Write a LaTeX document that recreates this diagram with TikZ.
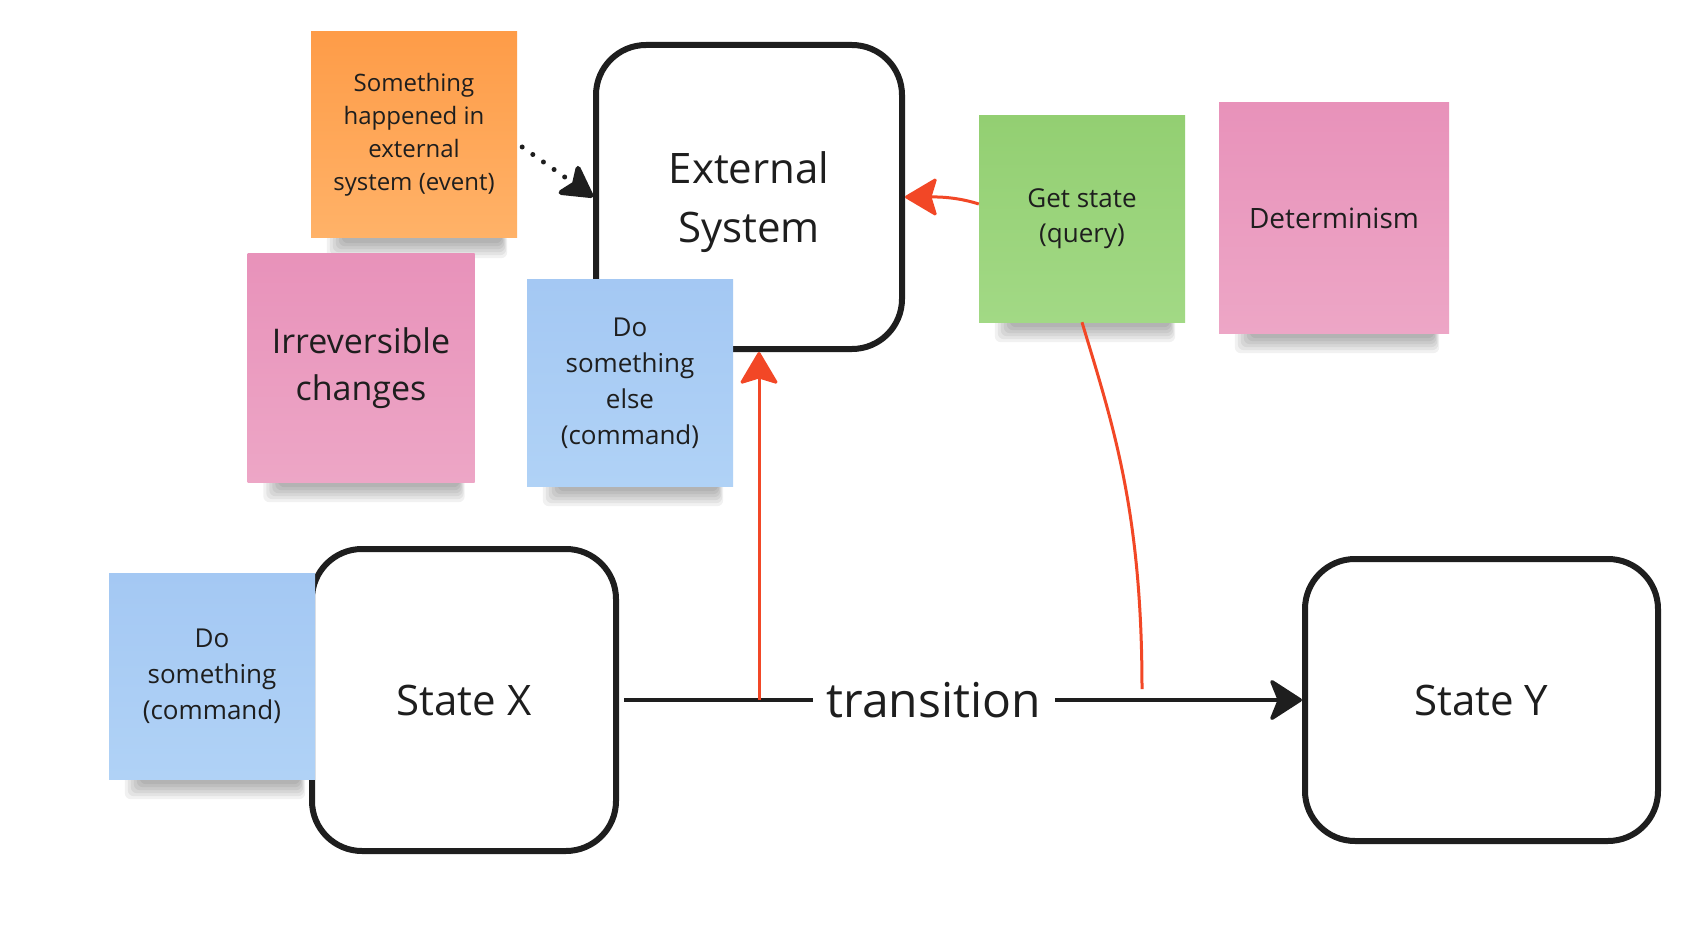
\documentclass[tikz,border=0pt]{standalone}
\usepackage{fontspec}
\setmainfont{Open Sans}
\usetikzlibrary{arrows.meta,positioning,calc,backgrounds}
\definecolor{ink}{HTML}{1E1E1E}
\definecolor{miroRed}{HTML}{F24726}
\definecolor{orangeTop}{RGB}{254,156,72}
\definecolor{orangeBot}{RGB}{255,178,104}
\definecolor{pinkTop}{RGB}{232,146,186}
\definecolor{pinkBot}{RGB}{237,166,198}
\definecolor{blueTop}{RGB}{164,200,243}
\definecolor{blueBot}{RGB}{176,210,246}
\definecolor{greenTop}{RGB}{147,207,114}
\definecolor{greenBot}{RGB}{162,217,133}
\tikzset{
    %Define standard arrow tip
    >={Stealth[length=34pt,width=40pt,inset=6pt,round]},
    %Define style for the state boxes
    statebox/.style={
           rectangle,
           rounded corners=50pt,
           draw=ink,
           line width=6pt,
           fill=white,
           text=ink,
           text depth=0pt,
           align=center,
           font=\fontsize{42}{59}\selectfont},
    %Define style for sticky notes
    sticky/.style={
           rectangle,
           minimum width=206pt,
           minimum height=206pt,
           align=center,
           text=ink,
           font=\fontsize{26}{36}\selectfont},
    orangenote/.style={top color=orangeTop, bottom color=orangeBot},
    pinknote/.style={top color=pinkTop, bottom color=pinkBot},
    bluenote/.style={top color=blueTop, bottom color=blueBot},
    greennote/.style={top color=greenTop, bottom color=greenBot},
    % Define arrow styles
    flow/.style={
           -{Stealth[length=35pt,width=45pt,inset=9pt,round]},
           draw=ink,
           line width=3.5pt,
           shorten <=5pt},
    redline/.style={
           draw=miroRed,
           line width=3pt},
    dotflow/.style={
           -{Stealth[length=36pt,width=40pt,inset=8pt,round]},
           draw=ink,
           line width=5pt,
           line cap=round,
           dash pattern=on 0pt off 13pt}
}
\begin{document}
\begin{tikzpicture}[x=1pt,y=-1pt]
  \begin{scope}[on background layer]
    \fill[white] (0,0) rectangle (1682,928);
  \end{scope}
  \useasboundingbox (0,0) rectangle (1682,928);
  % state boxes
  \node[statebox,minimum width=306pt,minimum height=304pt] (ext) at (749,197) {External\\System};
  \node[statebox,minimum width=304pt,minimum height=302pt] (statex) at (464,700) {State X};
  \node[statebox,minimum width=353pt,minimum height=282pt,right=683pt of statex] (statey) {State Y};
  % sticky notes
  \node[sticky,orangenote,font=\fontsize{24}{33}\selectfont] (event) at (414,135) {Something\\happened in\\external\\system (event)};
  \node[sticky,pinknote,minimum width=227pt,minimum height=228pt,font=\fontsize{34}{47}\selectfont] (irrev) at (361,368) {Irreversible\\changes};
  \node[sticky,bluenote] (cmdelse) at (630,383) {Do\\something\\else\\(command)};
  \node[sticky,greennote,font=\fontsize{26}{35}\selectfont] (query) at (1082,219) {Get state\\(query)};
  \node[sticky,pinknote,minimum size=230pt,font=\fontsize{28}{36}\selectfont,text depth=0pt] (determ) at (1334,218) {Determinism};
  \node[sticky,bluenote] (cmd) at (212,676) {Do\\something\\(command)};
  % note shadows
  \begin{scope}[on background layer]
    \foreach \n in {event,irrev,cmdelse,query,determ,cmd}
      \foreach \k in {1,...,6}
        \fill[black,opacity=0.055,rounded corners=6pt]
          ($(\n.south west)+(34-3*\k,-4)$) rectangle ($(\n.south east)+(-16+\k,2+3*\k)$);
  \end{scope}
  % transition
  \draw[flow] (statex.east) -- node[pos=0.461,fill=white,inner xsep=14pt,text=ink,font=\fontsize{48}{58}\selectfont] (trans) {transition} (statey.west);
  \coordinate (cmdtap) at (759,700);
  \coordinate (querytap) at (1142,689);
  \draw[redline,->] (cmdtap) -- (cmdtap |- ext.south);
  \draw[redline] (querytap) .. controls +(0,-180) and +(30,100) .. (query.south);
  \draw[redline,->] ([yshift=15pt]query.west) .. controls +(-25,-8) and +(28,0) .. (ext.east);
  \draw[dotflow] ([xshift=5pt,yshift=-12pt]event.east) -- (ext.west);
\end{tikzpicture}
\end{document}
